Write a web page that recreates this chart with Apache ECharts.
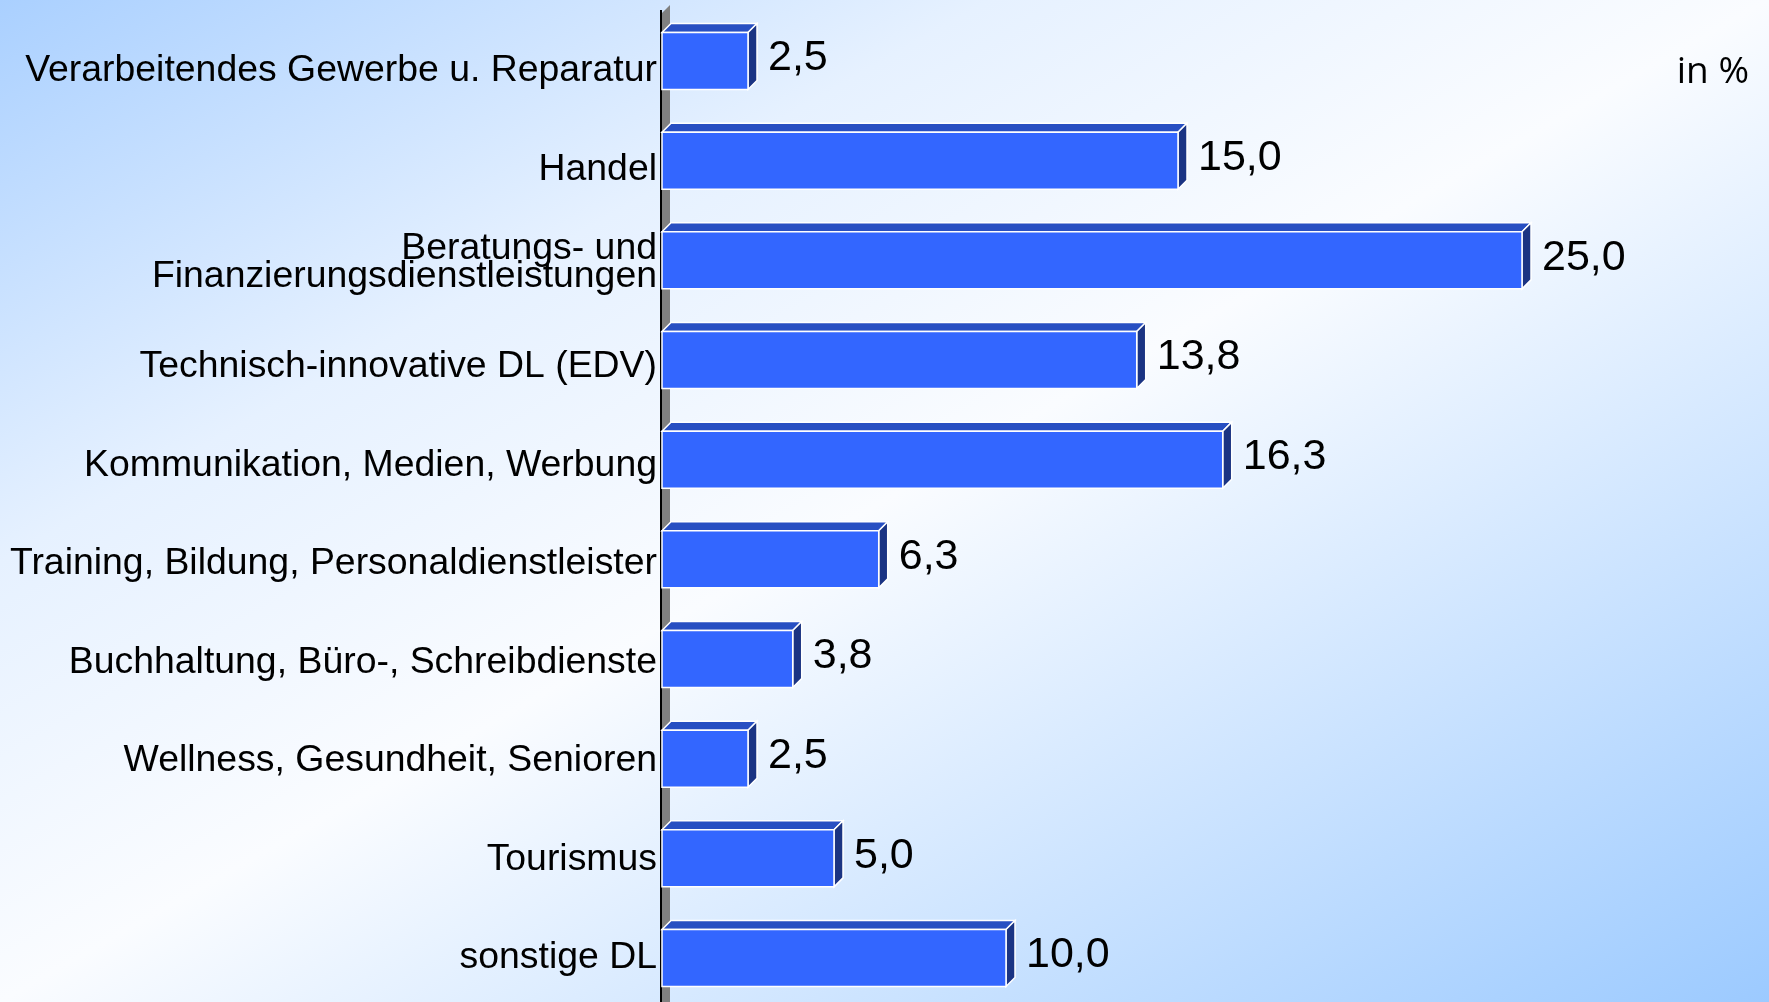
<!DOCTYPE html>
<html><head><meta charset="utf-8">
<script src="https://cdn.jsdelivr.net/npm/echarts@6/dist/echarts.min.js"></script>
<style>
html,body{margin:0;padding:0;}
#chart{width:1769px;height:1002px;background:linear-gradient(to bottom right,#aad0ff 0%,#e6f1ff 28%,#fafcff 50%,#9ccaff 100%);}
</style></head><body><div id="chart"></div>
<script>
const categories = [
  'Verarbeitendes Gewerbe u. Reparatur',
  'Handel',
  'Beratungs- und\nFinanzierungsdienstleistungen',
  'Technisch-innovative DL (EDV)',
  'Kommunikation, Medien, Werbung',
  'Training, Bildung, Personaldienstleister',
  'Buchhaltung, Büro-, Schreibdienste',
  'Wellness, Gesundheit, Senioren',
  'Tourismus',
  'sonstige DL'
];
const values = [2.5, 15.0, 25.0, 13.8, 16.3, 6.3, 3.8, 2.5, 5.0, 10.0];
const unitLabel = 'in %';
const valueMin = 0;
const valueMax = 30;

const DEPTH = 9;
const FONT = '"Liberation Sans", Arial, sans-serif';

function renderWall(params, api) {
  const x0 = api.coord([valueMin, 0])[0];
  const H = api.getHeight();
  const d = 8;
  const top = 11;
  return {
    type: 'group',
    children: [
      { type: 'polygon', shape: { points: [[x0, top + 2], [x0 + d, top + 2 - d], [x0 + d, H], [x0, H]] },
        style: { fill: '#808080' } },
      { type: 'line', shape: { x1: x0 - 1, y1: top - 1, x2: x0 - 1, y2: H },
        style: { stroke: '#000000', lineWidth: 2 } }
    ]
  };
}

function renderBar(params, api) {
  const v = api.value(0), idx = api.value(1);
  const p0 = api.coord([valueMin, idx]);
  const p1 = api.coord([v, idx]);
  const band = api.size([0, 1])[1];
  const h = band * 0.572;
  const d = DEPTH;
  const x0 = p0[0], x1 = p1[0];
  const yT = p0[1] - h / 2, yB = p0[1] + h / 2;
  const label = v.toFixed(1).replace('.', ',');
  return {
    type: 'group',
    children: [
      { type: 'polygon', shape: { points: [[x0, yT], [x0 + d, yT - d], [x1 + d, yT - d], [x1, yT]] },
        style: { fill: '#284fc2', stroke: '#ffffff', lineWidth: 1.5 } },
      { type: 'polygon', shape: { points: [[x1, yT], [x1 + d, yT - d], [x1 + d, yB - d], [x1, yB]] },
        style: { fill: '#1b3483', stroke: '#ffffff', lineWidth: 1.5 } },
      { type: 'rect', shape: { x: x0, y: yT, width: x1 - x0, height: h },
        style: { fill: '#3366ff', stroke: '#ffffff', lineWidth: 1.5 } },
      { type: 'text', style: { text: label, x: x1 + d + 11, y: p0[1] - d / 2 + 2,
        fill: '#000000', fontSize: 43, fontFamily: FONT, align: 'left', verticalAlign: 'middle' } }
    ]
  };
}

const chart = echarts.init(document.getElementById('chart'), null, { renderer: 'canvas' });
chart.setOption({
  backgroundColor: 'transparent',
  animation: false,
  grid: [
    { left: 662, top: 61, width: 1032, height: 897 },
    { left: 662, top: 71, width: 1032, height: 887 }
  ],
  xAxis: [
    { type: 'value', gridIndex: 0, min: valueMin, max: valueMax, show: false },
    { type: 'value', gridIndex: 1, min: valueMin, max: valueMax, show: false }
  ],
  yAxis: [
    { type: 'category', gridIndex: 0, inverse: true, boundaryGap: false, data: categories, show: false },
    { type: 'category', gridIndex: 1, inverse: true, boundaryGap: false, data: categories,
      axisLine: { show: false }, axisTick: { show: false }, splitLine: { show: false },
      axisLabel: {
        margin: 5, color: '#000000', fontSize: 37.4, fontFamily: FONT, lineHeight: 28,
        formatter: function (v) { return v.indexOf('\n') >= 0 ? '{m|' + v.split('\n').join('}\n{m|') + '}' : v; },
        rich: { m: { fontSize: 37.4, fontFamily: FONT, color: '#000000', lineHeight: 28, padding: [0, 0, 10, 0] } }
      } }
  ],
  graphic: [
    { type: 'text', right: 20, top: 54,
      style: { text: unitLabel, fontSize: 37, fontFamily: '"Open Sans", sans-serif', fill: '#000000' } }
  ],
  series: [
    { type: 'custom', xAxisIndex: 0, yAxisIndex: 0, z: 1, renderItem: renderWall, data: [[valueMin, 0]], clip: false, silent: true },
    { type: 'custom', xAxisIndex: 0, yAxisIndex: 0, z: 2, renderItem: renderBar,
      data: values.map((v, i) => [v, i]), encode: { x: 0, y: 1 }, clip: false }
  ]
});
</script></body></html>
